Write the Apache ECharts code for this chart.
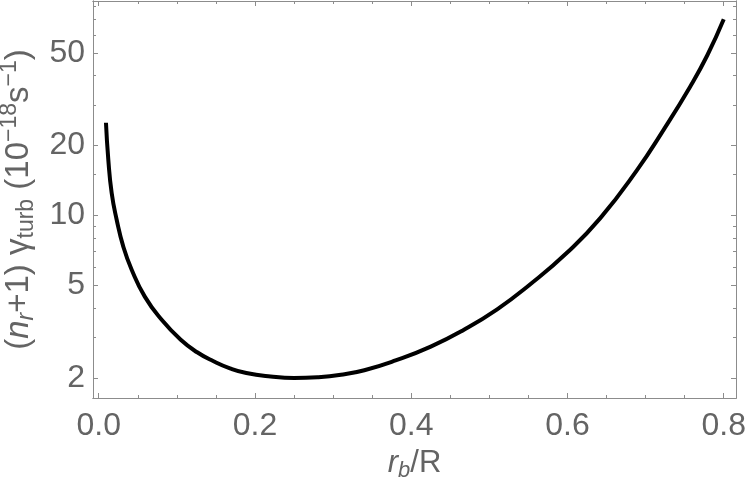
<!DOCTYPE html>
<html>
<head>
<meta charset="utf-8">
<script src="https://cdn.jsdelivr.net/npm/echarts@6/dist/echarts.min.js"></script>
<style>
  html, body { margin: 0; padding: 0; background: #fff; }
  #chart { width: 747px; height: 490px; }
</style>
</head>
<body>
<div id="chart"></div>
<script>
// values
var rbR = [0.0093, 0.0123, 0.0166, 0.023, 0.0315, 0.0422, 0.059, 0.0806, 0.105, 0.126, 0.147, 0.168, 0.189, 0.22, 0.25, 0.28, 0.31, 0.34, 0.38, 0.425, 0.467, 0.51, 0.552, 0.60, 0.642, 0.689, 0.723, 0.757, 0.779, 0.80];
var gammaTurb = [25.1, 17.4, 12.5, 9.6, 7.35, 5.85, 4.48, 3.56, 2.92, 2.58, 2.36, 2.2, 2.10, 2.03, 2.00, 2.015, 2.065, 2.16, 2.38, 2.73, 3.22, 3.95, 5.05, 6.95, 9.75, 15.7, 23.4, 35.9, 49, 70];

var xMajorTicks = [0, 0.2, 0.4, 0.6, 0.8];
var xMinorTicks = [0.05, 0.1, 0.15, 0.25, 0.3, 0.35, 0.45, 0.5, 0.55, 0.65, 0.7, 0.75];
var yMajorTicks = [2, 5, 10, 20, 50];
var yMinorTicks = [3, 4, 6, 7, 8, 9, 15, 30, 40, 60, 70, 80];

var xMin = -0.0073, xMax = 0.8157;
var yMin = 1.64, yMax = 83.9;

var frameColor = '#8c8c8c';
var textColor = '#646464';
var fontFamily = 'Liberation Sans';

var chart = echarts.init(document.getElementById('chart'));

function xAxisDef(pos, ticks, len, labels) {
  return {
    type: 'value', position: pos, min: xMin, max: xMax,
    axisLine: { show: true, onZero: false, lineStyle: { color: frameColor, width: 1 } },
    axisTick: { show: true, inside: true, length: len, customValues: ticks, lineStyle: { color: frameColor } },
    axisLabel: labels ? {
      show: true, customValues: ticks, color: textColor, fontSize: 32, fontFamily: fontFamily, margin: 12,
      formatter: function (v) { return v.toFixed(1); }
    } : { show: false },
    splitLine: { show: false }
  };
}

function yAxisDef(pos, ticks, len, labels) {
  return {
    type: 'log', logBase: 10, position: pos, min: yMin, max: yMax,
    axisLine: { show: true, onZero: false, lineStyle: { color: frameColor, width: 1 } },
    axisTick: { show: true, inside: true, length: len, customValues: ticks, lineStyle: { color: frameColor } },
    axisLabel: labels ? {
      show: true, customValues: ticks, color: textColor, fontSize: 32, fontFamily: fontFamily, margin: 8,
      formatter: function (v) { return String(Math.round(v)); }
    } : { show: false },
    splitLine: { show: false }
  };
}

var xAxes = [
  xAxisDef('bottom', xMajorTicks, 5, true),
  xAxisDef('bottom', xMinorTicks, 3, false),
  xAxisDef('top', xMajorTicks, 5, false),
  xAxisDef('top', xMinorTicks, 3, false)
];
xAxes[0].name = '{i|r}{sb|b}/R';
xAxes[0].nameLocation = 'middle';
xAxes[0].nameGap = 46;
xAxes[0].nameTextStyle = {
  color: textColor, fontSize: 31, fontFamily: fontFamily,
  rich: {
    i: { fontStyle: 'italic', fontSize: 31, color: textColor, fontFamily: fontFamily },
    sb: { fontStyle: 'italic', fontSize: 22, color: textColor, fontFamily: fontFamily, padding: [16, 0, 0, 0] }
  }
};

var yAxes = [
  yAxisDef('left', yMajorTicks, 5, true),
  yAxisDef('left', yMinorTicks, 3, false),
  yAxisDef('right', yMajorTicks, 5, false),
  yAxisDef('right', yMinorTicks, 3, false)
];
yAxes[0].name = '({i|n}{sb|r}+1) γ{sbu|turb} (10{sp|−18}s{sp|−1})';
yAxes[0].nameLocation = 'middle';
yAxes[0].nameRotate = 90;
yAxes[0].nameGap = 51;
yAxes[0].nameTextStyle = {
  color: textColor, fontSize: 33, fontFamily: fontFamily,
  rich: {
    i: { fontStyle: 'italic', fontSize: 33, color: textColor, fontFamily: fontFamily },
    sb: { fontStyle: 'italic', fontSize: 23, color: textColor, fontFamily: fontFamily, padding: [16, 0, 0, 0] },
    sbu: { fontSize: 23, color: textColor, fontFamily: fontFamily, padding: [16, 0, 0, 0] },
    sp: { fontSize: 23, color: textColor, fontFamily: fontFamily, padding: [0, 0, 18, 0] }
  }
};

var curve = rbR.map(function (x, i) { return [x, gammaTurb[i]]; });

chart.setOption({
  animation: false,
  backgroundColor: '#fff',
  grid: { left: 93, right: 11, top: 1, bottom: 92, containLabel: false, outerBoundsMode: 'none' },
  xAxis: xAxes,
  yAxis: yAxes,
  series: [{
    type: 'line',
    xAxisIndex: 0,
    yAxisIndex: 0,
    data: curve,
    smooth: 0.5,
    showSymbol: false,
    lineStyle: { color: '#000', width: 4 }
  }]
});
</script>
</body>
</html>
